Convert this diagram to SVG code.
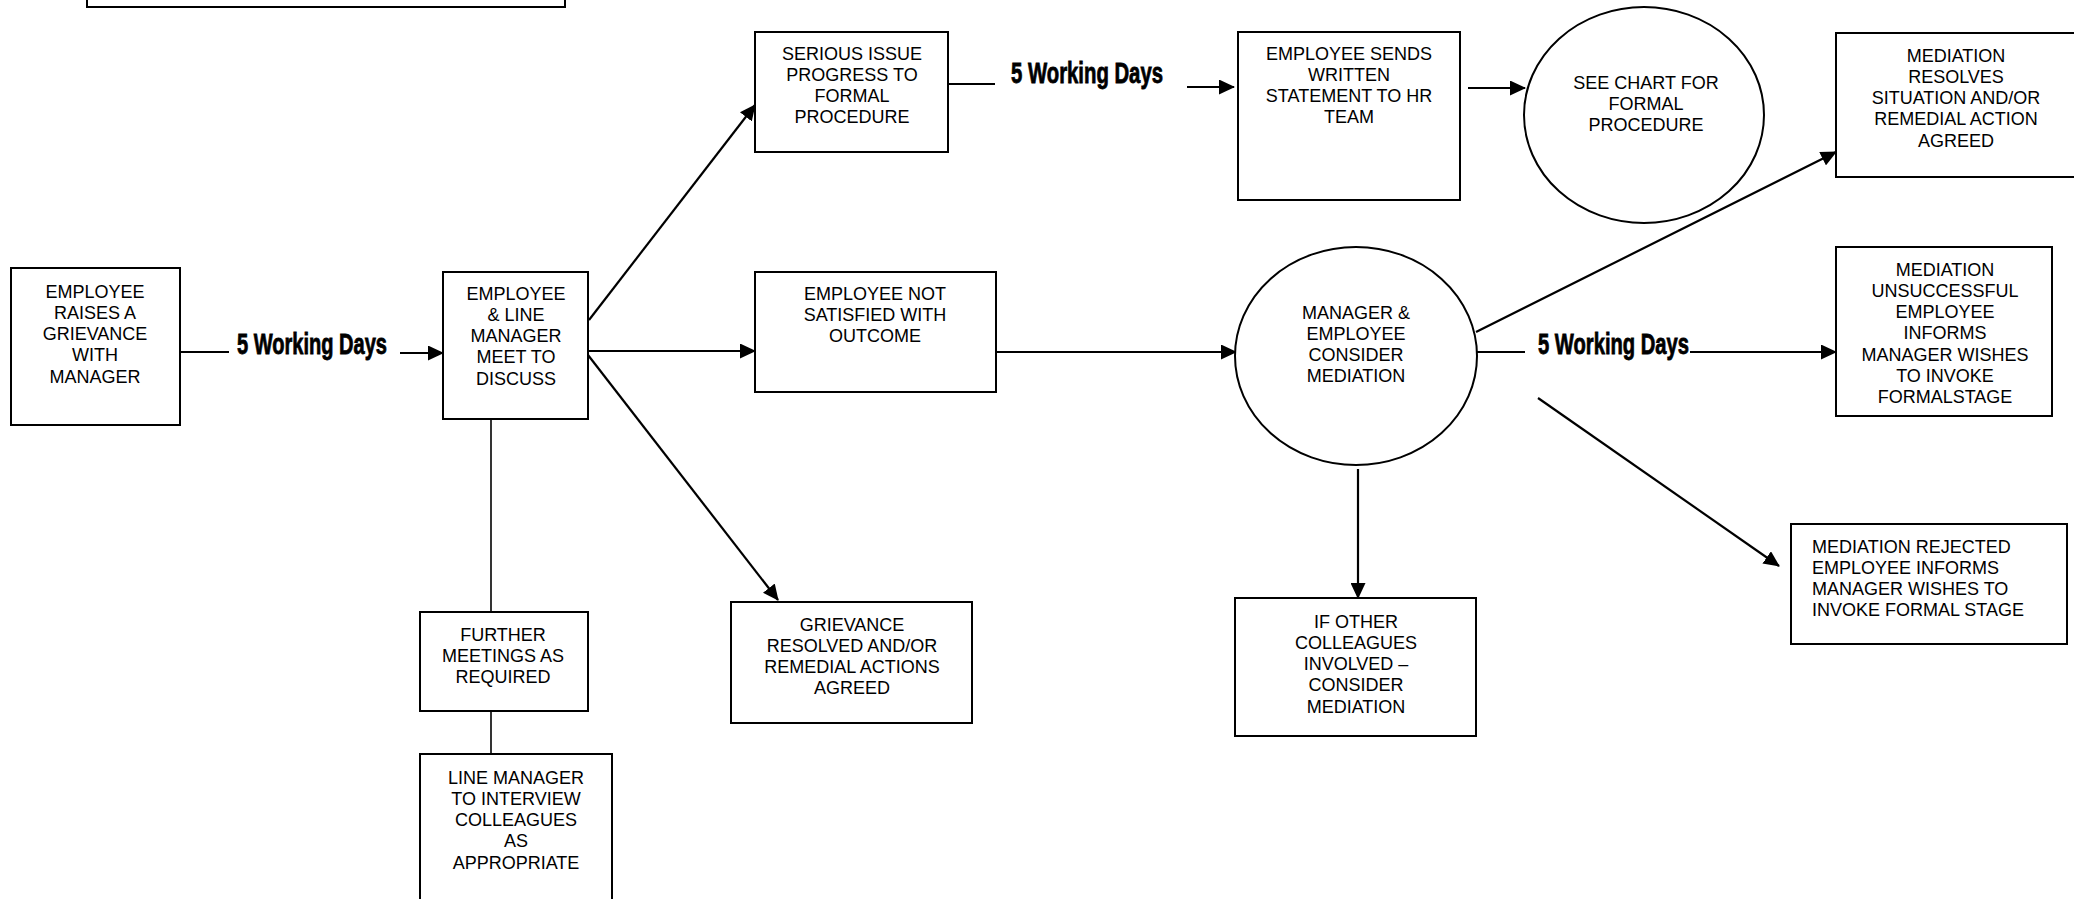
<svg xmlns="http://www.w3.org/2000/svg" width="2074" height="899" viewBox="0 0 2074 899">
<defs>
<marker id="ah" viewBox="0 0 16 15" markerWidth="16" markerHeight="15" markerUnits="userSpaceOnUse" refX="15" refY="7.5" orient="auto">
<path d="M0,0 L16,7.5 L0,15 Z" fill="#000"/>
</marker>
<style>
.node rect, .node ellipse { fill: #fff; stroke: #000; stroke-width: 2; }
text { font-family: "Liberation Sans", Arial, sans-serif; font-size: 18px; fill: #000; }
.c { text-anchor: middle; }
.wd { font-weight: bold; font-size: 29px; stroke: #000; stroke-width: 0.8; }
#connectors line { stroke: #000; stroke-width: 2.2; fill: none; }
#connectors .arr { marker-end: url(#ah); }
</style>
</defs>

<g id="connectors">
<line x1="180" y1="352" x2="229" y2="352"/>
<line class="arr" x1="400" y1="353" x2="443" y2="353"/>
<line class="arr" x1="589" y1="320" x2="755" y2="105"/>
<line class="arr" x1="588" y1="351" x2="755" y2="351"/>
<line class="arr" x1="588" y1="355" x2="778" y2="600"/>
<line x1="491" y1="419" x2="491" y2="612" style="stroke-width:1.6"/>
<line x1="491" y1="711" x2="491" y2="754" style="stroke-width:1.6"/>
<line x1="948" y1="84" x2="995" y2="84"/>
<line class="arr" x1="1187" y1="87" x2="1234" y2="87"/>
<line class="arr" x1="1468" y1="88" x2="1525" y2="88"/>
<line class="arr" x1="996" y1="352" x2="1236" y2="352"/>
<line class="arr" x1="1476" y1="332" x2="1836" y2="152"/>
<line x1="1476" y1="352" x2="1525" y2="352"/>
<line class="arr" x1="1690" y1="352" x2="1836" y2="352"/>
<line class="arr" x1="1538" y1="398" x2="1779" y2="566"/>
<line class="arr" x1="1358" y1="469" x2="1358" y2="598"/>
<text class="wd" x="237" y="354" textLength="150" lengthAdjust="spacingAndGlyphs">5 Working Days</text>
<text class="wd" x="1011" y="83" textLength="152" lengthAdjust="spacingAndGlyphs">5 Working Days</text>
<text class="wd" x="1538" y="354" textLength="151" lengthAdjust="spacingAndGlyphs">5 Working Days</text>
</g>

<g id="top-box" class="node"><rect x="87" y="-10" width="478" height="17"/></g>

<g id="n-raise" class="node">
<rect x="11" y="268" width="169" height="157"/>
<text class="c" x="95" y="297.5">EMPLOYEE<tspan x="95" dy="21.3">RAISES A</tspan><tspan x="95" dy="21.3">GRIEVANCE</tspan><tspan x="95" dy="21.3">WITH</tspan><tspan x="95" dy="21.3">MANAGER</tspan></text>
</g>

<g id="n-meet" class="node">
<rect x="443" y="272" width="145" height="147"/>
<text class="c" x="516" y="299.5">EMPLOYEE<tspan x="516" dy="21.3">&amp; LINE</tspan><tspan x="516" dy="21.3">MANAGER</tspan><tspan x="516" dy="21.3">MEET TO</tspan><tspan x="516" dy="21.3">DISCUSS</tspan></text>
</g>

<g id="n-serious" class="node">
<rect x="755" y="32" width="193" height="120"/>
<text class="c" x="852" y="59.5">SERIOUS ISSUE<tspan x="852" dy="21.3">PROGRESS TO</tspan><tspan x="852" dy="21.3">FORMAL</tspan><tspan x="852" dy="21.3">PROCEDURE</tspan></text>
</g>

<g id="n-sends" class="node">
<rect x="1238" y="32" width="222" height="168"/>
<text class="c" x="1349" y="59.5">EMPLOYEE SENDS<tspan x="1349" dy="21.3">WRITTEN</tspan><tspan x="1349" dy="21.3">STATEMENT TO HR</tspan><tspan x="1349" dy="21.3">TEAM</tspan></text>
</g>

<g id="n-chart" class="node">
<ellipse cx="1644" cy="115" rx="120" ry="108"/>
<text class="c" x="1646" y="88.5">SEE CHART FOR<tspan x="1646" dy="21.3">FORMAL</tspan><tspan x="1646" dy="21.3">PROCEDURE</tspan></text>
</g>

<g id="n-resolves" class="node">
<rect x="1836" y="33" width="250" height="144"/>
<text class="c" x="1956" y="61.5">MEDIATION<tspan x="1956" dy="21.3">RESOLVES</tspan><tspan x="1956" dy="21.3">SITUATION AND/OR</tspan><tspan x="1956" dy="21.3">REMEDIAL ACTION</tspan><tspan x="1956" dy="21.3">AGREED</tspan></text>
</g>

<g id="n-notsatisfied" class="node">
<rect x="755" y="272" width="241" height="120"/>
<text class="c" x="875" y="299.5">EMPLOYEE NOT<tspan x="875" dy="21.3">SATISFIED WITH</tspan><tspan x="875" dy="21.3">OUTCOME</tspan></text>
</g>

<g id="n-consider" class="node">
<ellipse cx="1356" cy="356" rx="121" ry="109"/>
<text class="c" x="1356" y="318.5">MANAGER &amp;<tspan x="1356" dy="21.3">EMPLOYEE</tspan><tspan x="1356" dy="21.3">CONSIDER</tspan><tspan x="1356" dy="21.3">MEDIATION</tspan></text>
</g>

<g id="n-unsuccessful" class="node">
<rect x="1836" y="247" width="216" height="169"/>
<text class="c" x="1945" y="275.5">MEDIATION<tspan x="1945" dy="21.3">UNSUCCESSFUL</tspan><tspan x="1945" dy="21.3">EMPLOYEE</tspan><tspan x="1945" dy="21.3">INFORMS</tspan><tspan x="1945" dy="21.3">MANAGER WISHES</tspan><tspan x="1945" dy="21.3">TO INVOKE</tspan><tspan x="1945" dy="21.3">FORMALSTAGE</tspan></text>
</g>

<g id="n-rejected" class="node">
<rect x="1791" y="524" width="276" height="120"/>
<text x="1812" y="552.5">MEDIATION REJECTED<tspan x="1812" dy="21.3">EMPLOYEE INFORMS</tspan><tspan x="1812" dy="21.3">MANAGER WISHES TO</tspan><tspan x="1812" dy="21.3">INVOKE FORMAL STAGE</tspan></text>
</g>

<g id="n-colleagues" class="node">
<rect x="1235" y="598" width="241" height="138"/>
<text class="c" x="1356" y="627.5">IF OTHER<tspan x="1356" dy="21.3">COLLEAGUES</tspan><tspan x="1356" dy="21.3">INVOLVED –</tspan><tspan x="1356" dy="21.3">CONSIDER</tspan><tspan x="1356" dy="21.3">MEDIATION</tspan></text>
</g>

<g id="n-resolved" class="node">
<rect x="731" y="602" width="241" height="121"/>
<text class="c" x="852" y="630.5">GRIEVANCE<tspan x="852" dy="21.3">RESOLVED AND/OR</tspan><tspan x="852" dy="21.3">REMEDIAL ACTIONS</tspan><tspan x="852" dy="21.3">AGREED</tspan></text>
</g>

<g id="n-further" class="node">
<rect x="420" y="612" width="168" height="99"/>
<text class="c" x="503" y="640.5">FURTHER<tspan x="503" dy="21.3">MEETINGS AS</tspan><tspan x="503" dy="21.3">REQUIRED</tspan></text>
</g>

<g id="n-interview" class="node">
<rect x="420" y="754" width="192" height="160"/>
<text class="c" x="516" y="783.5">LINE MANAGER<tspan x="516" dy="21.3">TO INTERVIEW</tspan><tspan x="516" dy="21.3">COLLEAGUES</tspan><tspan x="516" dy="21.3">AS</tspan><tspan x="516" dy="21.3">APPROPRIATE</tspan></text>
</g>
</svg>
